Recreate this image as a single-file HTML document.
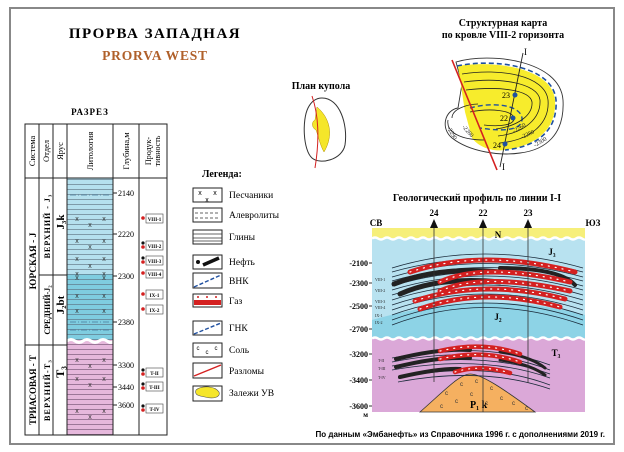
<!DOCTYPE html>
<html><head><meta charset="utf-8"><style>
html,body{margin:0;padding:0;background:#fff;}
svg{display:block;}
text{font-family:"Liberation Serif",serif;}
text.sans{font-family:"Liberation Sans",sans-serif;}
</style></head><body>
<svg width="624" height="452" viewBox="0 0 624 452" xmlns="http://www.w3.org/2000/svg">
<defs>
<pattern id="hl" width="10" height="5" patternUnits="userSpaceOnUse"><line x1="0" y1="4.5" x2="10" y2="4.5" stroke="#5a6a7a" stroke-width="0.6"/></pattern>
<pattern id="hlp" width="10" height="5" patternUnits="userSpaceOnUse"><line x1="0" y1="4.5" x2="10" y2="4.5" stroke="#6a4a6a" stroke-width="0.6"/></pattern>
</defs>
<rect x="10" y="8" width="604" height="436" fill="#fff" stroke="#888" stroke-width="2"/>

<!-- Title -->
<text x="155" y="38" font-size="15" font-weight="bold" text-anchor="middle" letter-spacing="1.5">ПРОРВА ЗАПАДНАЯ</text>
<text x="155" y="60" font-size="13.5" font-weight="bold" fill="#b0602a" text-anchor="middle" letter-spacing="0.8">PRORVA WEST</text>

<!-- Section -->
<text x="90" y="115" font-size="9" font-weight="bold" text-anchor="middle" letter-spacing="1">РАЗРЕЗ</text>
<rect x="67" y="178" width="46" height="96" fill="#b5e0ee"/>
<rect x="67" y="274" width="46" height="66" fill="#7fcde0"/>
<rect x="67" y="340" width="46" height="95" fill="#e6b8dc"/>
<rect x="67" y="178" width="46" height="162" fill="url(#hl)"/>
<rect x="67" y="344" width="46" height="91" fill="url(#hlp)"/>
<path d="M67 341 q4 -3 8 0 t8 0 t8 0 t8 0 t8 0 t7 0" fill="none" stroke="#fff" stroke-width="3"/>
<line x1="70" y1="195" x2="110" y2="195" stroke="#4a7a9a" stroke-dasharray="6 2 1 2" stroke-width="0.8"/>
<line x1="70" y1="322" x2="110" y2="322" stroke="#4a7a9a" stroke-dasharray="6 2 1 2" stroke-width="0.8"/>
<line x1="70" y1="330" x2="110" y2="330" stroke="#4a7a9a" stroke-dasharray="6 2 1 2" stroke-width="0.8"/>
<g font-size="7" fill="#333" text-anchor="middle">
<text class="sans" x="77" y="221">x</text><text class="sans" x="104" y="221">x</text><text class="sans" x="90" y="227">x</text>
<text class="sans" x="77" y="243">x</text><text class="sans" x="104" y="243">x</text><text class="sans" x="90" y="249">x</text>
<text class="sans" x="77" y="261">x</text><text class="sans" x="104" y="261">x</text><text class="sans" x="90" y="268">x</text>
<text class="sans" x="77" y="276">x</text><text class="sans" x="104" y="276">x</text><text class="sans" x="77" y="280">x</text><text class="sans" x="104" y="280">x</text>
<text class="sans" x="77" y="298">x</text><text class="sans" x="104" y="298">x</text>
<text class="sans" x="77" y="313">x</text><text class="sans" x="104" y="313">x</text>
<text class="sans" x="77" y="362">x</text><text class="sans" x="104" y="362">x</text><text class="sans" x="90" y="368">x</text>
<text class="sans" x="77" y="381">x</text><text class="sans" x="104" y="381">x</text><text class="sans" x="90" y="387">x</text>
<text class="sans" x="77" y="413">x</text><text class="sans" x="104" y="413">x</text><text class="sans" x="90" y="419">x</text>
</g>
<g stroke="#222" stroke-width="1" fill="none">
<rect x="25" y="124" width="142" height="311"/>
<line x1="25" y1="178" x2="167" y2="178"/>
<line x1="39" y1="124" x2="39" y2="435"/>
<line x1="53" y1="124" x2="53" y2="435"/>
<line x1="67" y1="124" x2="67" y2="435"/>
<line x1="113" y1="124" x2="113" y2="435"/>
<line x1="139" y1="124" x2="139" y2="435"/>
<line x1="25" y1="345" x2="67" y2="345"/>
<line x1="39" y1="275" x2="67" y2="275"/>
</g>
<g font-size="8.5" text-anchor="middle">
<text transform="translate(35,151) rotate(-90)">Система</text>
<text transform="translate(49,151) rotate(-90)">Отдел</text>
<text transform="translate(63,151) rotate(-90)">Ярус</text>
<text transform="translate(93,151) rotate(-90)">Литология</text>
<text transform="translate(129,151) rotate(-90)">Глубина,м</text>
<text transform="translate(151,151) rotate(-90)" font-size="8">Продук-</text>
<text transform="translate(160,151) rotate(-90)" font-size="8">тивность</text>
<g font-weight="bold">
<text transform="translate(36,261) rotate(-90)" font-size="9.5">ЮРСКАЯ - J</text>
<text transform="translate(36,390) rotate(-90)" font-size="9">ТРИАСОВАЯ - Т</text>
<text transform="translate(50,226) rotate(-90)" font-size="8" letter-spacing="1">ВЕРХНИЙ - J₃</text>
<text transform="translate(50,310) rotate(-90)" font-size="8">СРЕДНИЙ-J₂</text>
<text transform="translate(50,390) rotate(-90)" font-size="8" letter-spacing="1.2">ВЕРХНИЙ-Т₃</text>
<text transform="translate(64,222) rotate(-90)" font-size="11">J₃k</text>
<text transform="translate(64,305) rotate(-90)" font-size="11">J₂bt</text>
<text transform="translate(64,372) rotate(-90)" font-size="12">T₃</text>
</g>
</g>
<g stroke="#222">
<line x1="113" y1="193" x2="117" y2="193"/><line x1="113" y1="234" x2="117" y2="234"/><line x1="113" y1="276" x2="117" y2="276"/><line x1="113" y1="322" x2="117" y2="322"/><line x1="113" y1="365" x2="117" y2="365"/><line x1="113" y1="387" x2="117" y2="387"/><line x1="113" y1="405" x2="117" y2="405"/>
</g>
<g font-size="8">
<text x="118" y="196">2140</text><text x="118" y="237">2220</text><text x="118" y="279">2300</text><text x="118" y="325">2380</text><text x="118" y="368">3300</text><text x="118" y="390">3440</text><text x="118" y="408">3600</text>
</g>
<g font-size="5" font-weight="bold" text-anchor="middle">
<g stroke="#444" stroke-width="0.6" fill="#fff">
<rect x="146" y="214" width="17" height="9"/><rect x="146" y="241" width="17" height="9"/><rect x="146" y="256" width="17" height="9"/><rect x="146" y="270" width="17" height="8"/><rect x="146" y="290" width="17" height="9"/><rect x="146" y="305" width="17" height="9"/><rect x="146" y="368" width="17" height="9"/><rect x="146" y="382" width="17" height="9"/><rect x="146" y="404" width="17" height="9"/>
</g>
<text x="154.5" y="221">VIII-1</text><text x="154.5" y="248">VIII-2</text><text x="154.5" y="263">VIII-3</text><text x="154.5" y="276">VIII-4</text><text x="154.5" y="297">IX-1</text><text x="154.5" y="312">IX-2</text><text x="154.5" y="375">T-II</text><text x="154.5" y="389">T-III</text><text x="154.5" y="411">T-IV</text>
</g>
<g fill="#d42020">
<circle cx="143" cy="218" r="1.8"/><circle cx="143" cy="247" r="1.8"/><circle cx="143" cy="262" r="1.8"/><circle cx="143" cy="273" r="1.8"/><circle cx="143" cy="294" r="1.8"/><circle cx="143" cy="309" r="1.8"/><circle cx="143" cy="374" r="1.8"/><circle cx="143" cy="388" r="1.8"/><circle cx="143" cy="410" r="1.8"/>
</g>
<g fill="#111"><circle cx="143" cy="243" r="1.6"/><circle cx="143" cy="258" r="1.6"/><circle cx="143" cy="370" r="1.6"/><circle cx="143" cy="384" r="1.6"/><circle cx="143" cy="406" r="1.6"/></g>

<!-- Plan kupola -->
<text x="321" y="89" font-size="10" font-weight="bold" text-anchor="middle">План купола</text>
<path d="M322 98 C340 98 348 125 345 145 C342 160 320 165 312 158 C303 150 302 120 308 108 C312 100 317 98 322 98Z" fill="none" stroke="#333" stroke-width="1"/>
<path d="M317 107 C330 118 334 135 324 152 C320 145 318 135 316 130 C312 128 311 122 315 120 Z" fill="#f5e62a" stroke="#b09000" stroke-width="0.5"/>
<path d="M312 96 Q322 125 315 168" fill="none" stroke="#d42020" stroke-width="1"/>

<!-- Legend -->
<text x="202" y="177" font-size="10" font-weight="bold">Легенда:</text>
<g stroke="#222" stroke-width="1" fill="#fff">
<rect x="193" y="188" width="29" height="14"/>
<rect x="193" y="208" width="29" height="14"/>
<rect x="193" y="230" width="29" height="14"/>
<rect x="193" y="255" width="29" height="14"/>
<rect x="193" y="273" width="29" height="15"/>
<rect x="193" y="294" width="29" height="13"/>
<rect x="193" y="321" width="29" height="14"/>
<rect x="193" y="343" width="29" height="14"/>
<rect x="193" y="363" width="29" height="15"/>
<rect x="193" y="386" width="29" height="15"/>
</g>
<g font-size="7" text-anchor="middle"><text class="sans" x="200" y="195">x</text><text class="sans" x="215" y="195">x</text><text class="sans" x="207" y="202">x</text><text class="sans" x="198" y="350" font-size="6">c</text><text class="sans" x="207" y="354" font-size="6">c</text><text class="sans" x="216" y="350" font-size="6">c</text></g>
<g stroke="#333" stroke-width="0.7"><line x1="195" y1="213" x2="220" y2="213" stroke-dasharray="3 2"/><line x1="195" y1="218" x2="220" y2="218" stroke-dasharray="3 2"/><line x1="193" y1="234" x2="222" y2="234"/><line x1="193" y1="238" x2="222" y2="238"/><line x1="193" y1="241" x2="222" y2="241"/></g>
<circle cx="198" cy="262" r="2" fill="#111"/><line x1="203" y1="265" x2="219" y2="258" stroke="#111" stroke-width="3.5"/>
<line x1="194" y1="287" x2="221" y2="275" stroke="#2050a0" stroke-width="1.4" stroke-dasharray="4 2"/>
<line x1="194" y1="334" x2="221" y2="323" stroke="#2050a0" stroke-width="1.4" stroke-dasharray="4 2"/>
<rect x="194" y="300" width="27" height="5" fill="#d42020"/><g fill="#d42020"><circle cx="198" cy="297" r="1"/><circle cx="207" cy="297" r="1"/><circle cx="216" cy="297" r="1"/></g>
<line x1="194" y1="376" x2="221" y2="365" stroke="#d42020" stroke-width="1.4"/>
<path d="M196 390 C202 385 215 386 219 392 C221 398 212 399 205 397 C199 396 194 395 196 390Z" fill="#f5e62a" stroke="#555" stroke-width="0.6"/>
<g font-size="9.5">
<text x="229" y="198">Песчаники</text><text x="229" y="218">Алевролиты</text><text x="229" y="240">Глины</text><text x="229" y="265">Нефть</text><text x="229" y="284">ВНК</text><text x="229" y="304">Газ</text><text x="229" y="331">ГНК</text><text x="229" y="353">Соль</text><text x="229" y="374">Разломы</text><text x="229" y="396">Залежи УВ</text>
</g>

<!-- Structural map -->
<text x="503" y="26" font-size="10" font-weight="bold" text-anchor="middle">Структурная карта</text>
<text x="503" y="38" font-size="10" font-weight="bold" text-anchor="middle">по кровле VIII-2 горизонта</text>
<path d="M456 62 C490 52 560 60 563 100 C565 135 545 150 520 153 C500 156 470 152 452 138 C440 128 445 110 458 108 L462 84 Z" fill="none" stroke="#333" stroke-width="0.9"/>
<path d="M458 66 C495 60 552 68 555 100 C557 130 535 146 505 150 C490 152 478 146 472 138 L465 112 Z" fill="#f7ec2c"/>
<path d="M457 66 C495 58 553 66 556 100 C558 132 535 147 505 150" fill="none" stroke="#1e50a0" stroke-width="1.6" stroke-dasharray="5 3"/>
<path d="M470 108 C490 102 520 104 522 118 C523 130 505 132 480 128" fill="none" stroke="#1e50a0" stroke-width="1.4" stroke-dasharray="5 3"/>
<g fill="none" stroke="#222" stroke-width="0.8">
<path d="M462 74 C500 68 545 75 548 100 C550 124 530 140 500 143"/>
<path d="M464 82 C500 77 538 83 540 100 C541 118 525 133 498 136"/>
<path d="M466 90 C500 86 530 90 532 102 C533 115 518 126 496 129"/>
<path d="M470 112 C490 108 512 110 514 118 C515 125 500 127 484 125"/>
<path d="M452 118 C452 108 470 104 478 104"/>
<path d="M448 120 C446 132 460 140 485 140"/>
</g>
<path d="M452 60 L497 170" stroke="#d42020" stroke-width="1.6"/>
<path d="M523 53 L500 167" stroke="#222" stroke-width="0.9"/>
<text x="524" y="55" font-size="9">I</text><text x="502" y="170" font-size="9">I</text>
<g fill="#1e50a0"><circle cx="515" cy="95" r="2.5"/><circle cx="513" cy="118" r="2.5"/><circle cx="505" cy="144" r="2.5"/></g>
<g font-size="8"><text x="502" y="98">23</text><text x="500" y="121">22</text><text x="493" y="148">24</text></g>
<g font-size="6" fill="#222"><text transform="translate(462,127) rotate(50)">-2280</text><text transform="translate(447,128) rotate(60)">-2290</text><text transform="translate(514,133) rotate(-30)">-2260</text><text transform="translate(522,139) rotate(-25)">-2280</text><text transform="translate(535,147) rotate(-30)">-2300</text></g>

<!-- Geological profile -->
<text x="477" y="201" font-size="10" font-weight="bold" text-anchor="middle">Геологический профиль по линии I-I</text>
<rect x="372" y="228" width="213" height="10" fill="#f6ef7a"/>
<rect x="372" y="238" width="213" height="100" fill="#b8e2f0"/>
<path d="M372 320 Q483 288 585 315 L585 338 L372 338Z" fill="#8dd3e6"/>
<rect x="372" y="338" width="213" height="74" fill="#dba8d8"/>
<path d="M372 238.5 q3 -2 6 0 t6 0 t6 0 t6 0 t6 0 t6 0 t6 0 t6 0 t6 0 t6 0 t6 0 t6 0 t6 0 t6 0 t6 0 t6 0 t6 0 t6 0 t6 0 t6 0 t6 0 t6 0 t6 0 t6 0 t6 0 t6 0 t6 0 t6 0 t6 0 t6 0 t6 0 t6 0 t6 0 t6 0 t6 0 t3 0" fill="none" stroke="#fff" stroke-width="2.5"/>
<path d="M372 338.5 q3 -2 6 0 t6 0 t6 0 t6 0 t6 0 t6 0 t6 0 t6 0 t6 0 t6 0 t6 0 t6 0 t6 0 t6 0 t6 0 t6 0 t6 0 t6 0 t6 0 t6 0 t6 0 t6 0 t6 0 t6 0 t6 0 t6 0 t6 0 t6 0 t6 0 t6 0 t6 0 t6 0 t6 0 t6 0 t6 0 t3 0" fill="none" stroke="#fff" stroke-width="2.5"/>
<path d="M420 412 C445 390 460 374 470 374 C482 374 505 390 535 412Z" fill="#f5b060" stroke="#333" stroke-width="0.8"/>
<g font-size="6" fill="#333"><text class="sans" x="445" y="395">c</text><text class="sans" x="460" y="386">c</text><text class="sans" x="475" y="383">c</text><text class="sans" x="490" y="390">c</text><text class="sans" x="440" y="408">c</text><text class="sans" x="455" y="403">c</text><text class="sans" x="470" y="396">c</text><text class="sans" x="500" y="400">c</text><text class="sans" x="512" y="405">c</text><text class="sans" x="525" y="410">c</text><text class="sans" x="485" y="405">c</text></g>
<text x="470" y="408" font-size="10" font-weight="bold">P₁ k</text>
<g fill="none" stroke="#1a2a3a" stroke-width="0.8">
<path d="M392 268 Q483 240 583 268"/><path d="M392 272 Q483 246 583 272"/><path d="M392 277 Q483 250 583 277"/><path d="M392 281 Q483 254 583 281"/><path d="M392 286 Q483 258 583 286"/><path d="M392 290 Q483 262 583 290"/><path d="M392 295 Q483 266 583 295"/><path d="M392 300 Q483 270 583 300"/><path d="M392 305 Q483 274 583 305"/><path d="M392 310 Q483 278 583 310"/><path d="M392 315 Q483 282 583 315"/><path d="M392 320 Q483 286 583 320"/><path d="M392 325 Q483 290 583 325"/>
</g>
<g fill="none" stroke-linecap="round">
<path d="M394 284 Q440 266 500 272" stroke="#222" stroke-width="5"/>
<path d="M400 294 Q440 276 500 282" stroke="#222" stroke-width="5"/>
<path d="M500 268 Q560 268 575 285" stroke="#222" stroke-width="4"/>
<path d="M410 272 Q483 248 575 272" stroke="#d42020" stroke-width="5"/>
<path d="M440 282 Q483 262 570 282" stroke="#d42020" stroke-width="5"/>
<path d="M440 291 Q483 272 570 291" stroke="#d42020" stroke-width="5"/>
<path d="M415 301 Q483 278 565 299" stroke="#d42020" stroke-width="5"/>
<path d="M420 309 Q483 286 560 307" stroke="#d42020" stroke-width="5"/>
<g stroke="#fff" stroke-width="1.2" stroke-dasharray="1 6">
<path d="M410 272 Q483 248 575 272"/><path d="M440 282 Q483 262 570 282"/><path d="M440 291 Q483 272 570 291"/><path d="M415 301 Q483 278 565 299"/><path d="M420 309 Q483 286 560 307"/>
</g>
</g>
<g fill="none" stroke="#1a2a3a" stroke-width="0.8">
<path d="M392 358 Q483 340 550 365"/><path d="M392 362 Q483 344 550 370"/><path d="M392 366 Q483 350 550 374"/><path d="M392 370 Q483 354 550 378"/><path d="M398 378 Q483 360 550 385"/><path d="M398 382 Q483 366 550 389"/>
</g>
<g fill="none" stroke-linecap="round">
<path d="M396 359 Q440 348 470 350" stroke="#222" stroke-width="4"/>
<path d="M396 367 Q440 356 470 358" stroke="#222" stroke-width="4"/>
<path d="M400 377 Q440 368 460 369" stroke="#222" stroke-width="4"/>
<path d="M500 352 Q530 356 545 368" stroke="#222" stroke-width="3"/>
<path d="M500 360 Q530 364 545 375" stroke="#222" stroke-width="3"/>
<path d="M440 351 Q483 341 520 354" stroke="#d42020" stroke-width="4.5"/>
<path d="M440 359 Q483 349 520 362" stroke="#d42020" stroke-width="4.5"/>
<path d="M455 372 Q480 364 510 373" stroke="#d42020" stroke-width="4.5"/>
<g stroke="#fff" stroke-width="1.2" stroke-dasharray="1 6"><path d="M440 351 Q483 341 520 354"/><path d="M440 359 Q483 349 520 362"/><path d="M455 372 Q480 364 510 373"/></g>
</g>
<g stroke="#333" stroke-width="0.8"><line x1="434" y1="226" x2="434" y2="382"/><line x1="483" y1="226" x2="483" y2="412"/><line x1="528" y1="226" x2="528" y2="383"/></g>
<g fill="#111"><path d="M434 219 l-4 9 h8z"/><path d="M483 219 l-4 9 h8z"/><path d="M528 219 l-4 9 h8z"/></g>
<g font-size="9" font-weight="bold" text-anchor="middle"><text x="434" y="216">24</text><text x="483" y="216">22</text><text x="528" y="216">23</text><text x="376" y="226">СВ</text><text x="593" y="226">ЮЗ</text>
<text x="498" y="238">N</text><text x="552" y="255">J₃</text><text x="498" y="320">J₂</text><text x="556" y="356">T₃</text></g>
<g font-size="8" font-weight="bold" text-anchor="end"><text x="368" y="266">-2100</text><text x="368" y="286">-2300</text><text x="368" y="309">-2500</text><text x="368" y="332">-2700</text><text x="368" y="357">-3200</text><text x="368" y="383">-3400</text><text x="368" y="409">-3600</text><text x="368" y="417" font-size="7">м</text></g>
<g stroke="#333"><line x1="369" y1="263" x2="372" y2="263"/><line x1="369" y1="283" x2="372" y2="283"/><line x1="369" y1="306" x2="372" y2="306"/><line x1="369" y1="329" x2="372" y2="329"/><line x1="369" y1="354" x2="372" y2="354"/><line x1="369" y1="380" x2="372" y2="380"/><line x1="369" y1="406" x2="372" y2="406"/></g>
<g font-size="4" fill="#222"><text x="375" y="281">VIII-1</text><text x="375" y="292">VIII-2</text><text x="375" y="303">VIII-3</text><text x="375" y="309">VIII-4</text><text x="375" y="317">IX-1</text><text x="375" y="324">IX-2</text><text x="378" y="362">T-II</text><text x="378" y="370">T-III</text><text x="378" y="379">T-IV</text></g>

<text class="sans" x="605" y="437" font-size="8" font-weight="bold" text-anchor="end">По данным «Эмбанефть» из Справочника 1996 г. с дополнениями 2019 г.</text>
</svg>
</body></html>
